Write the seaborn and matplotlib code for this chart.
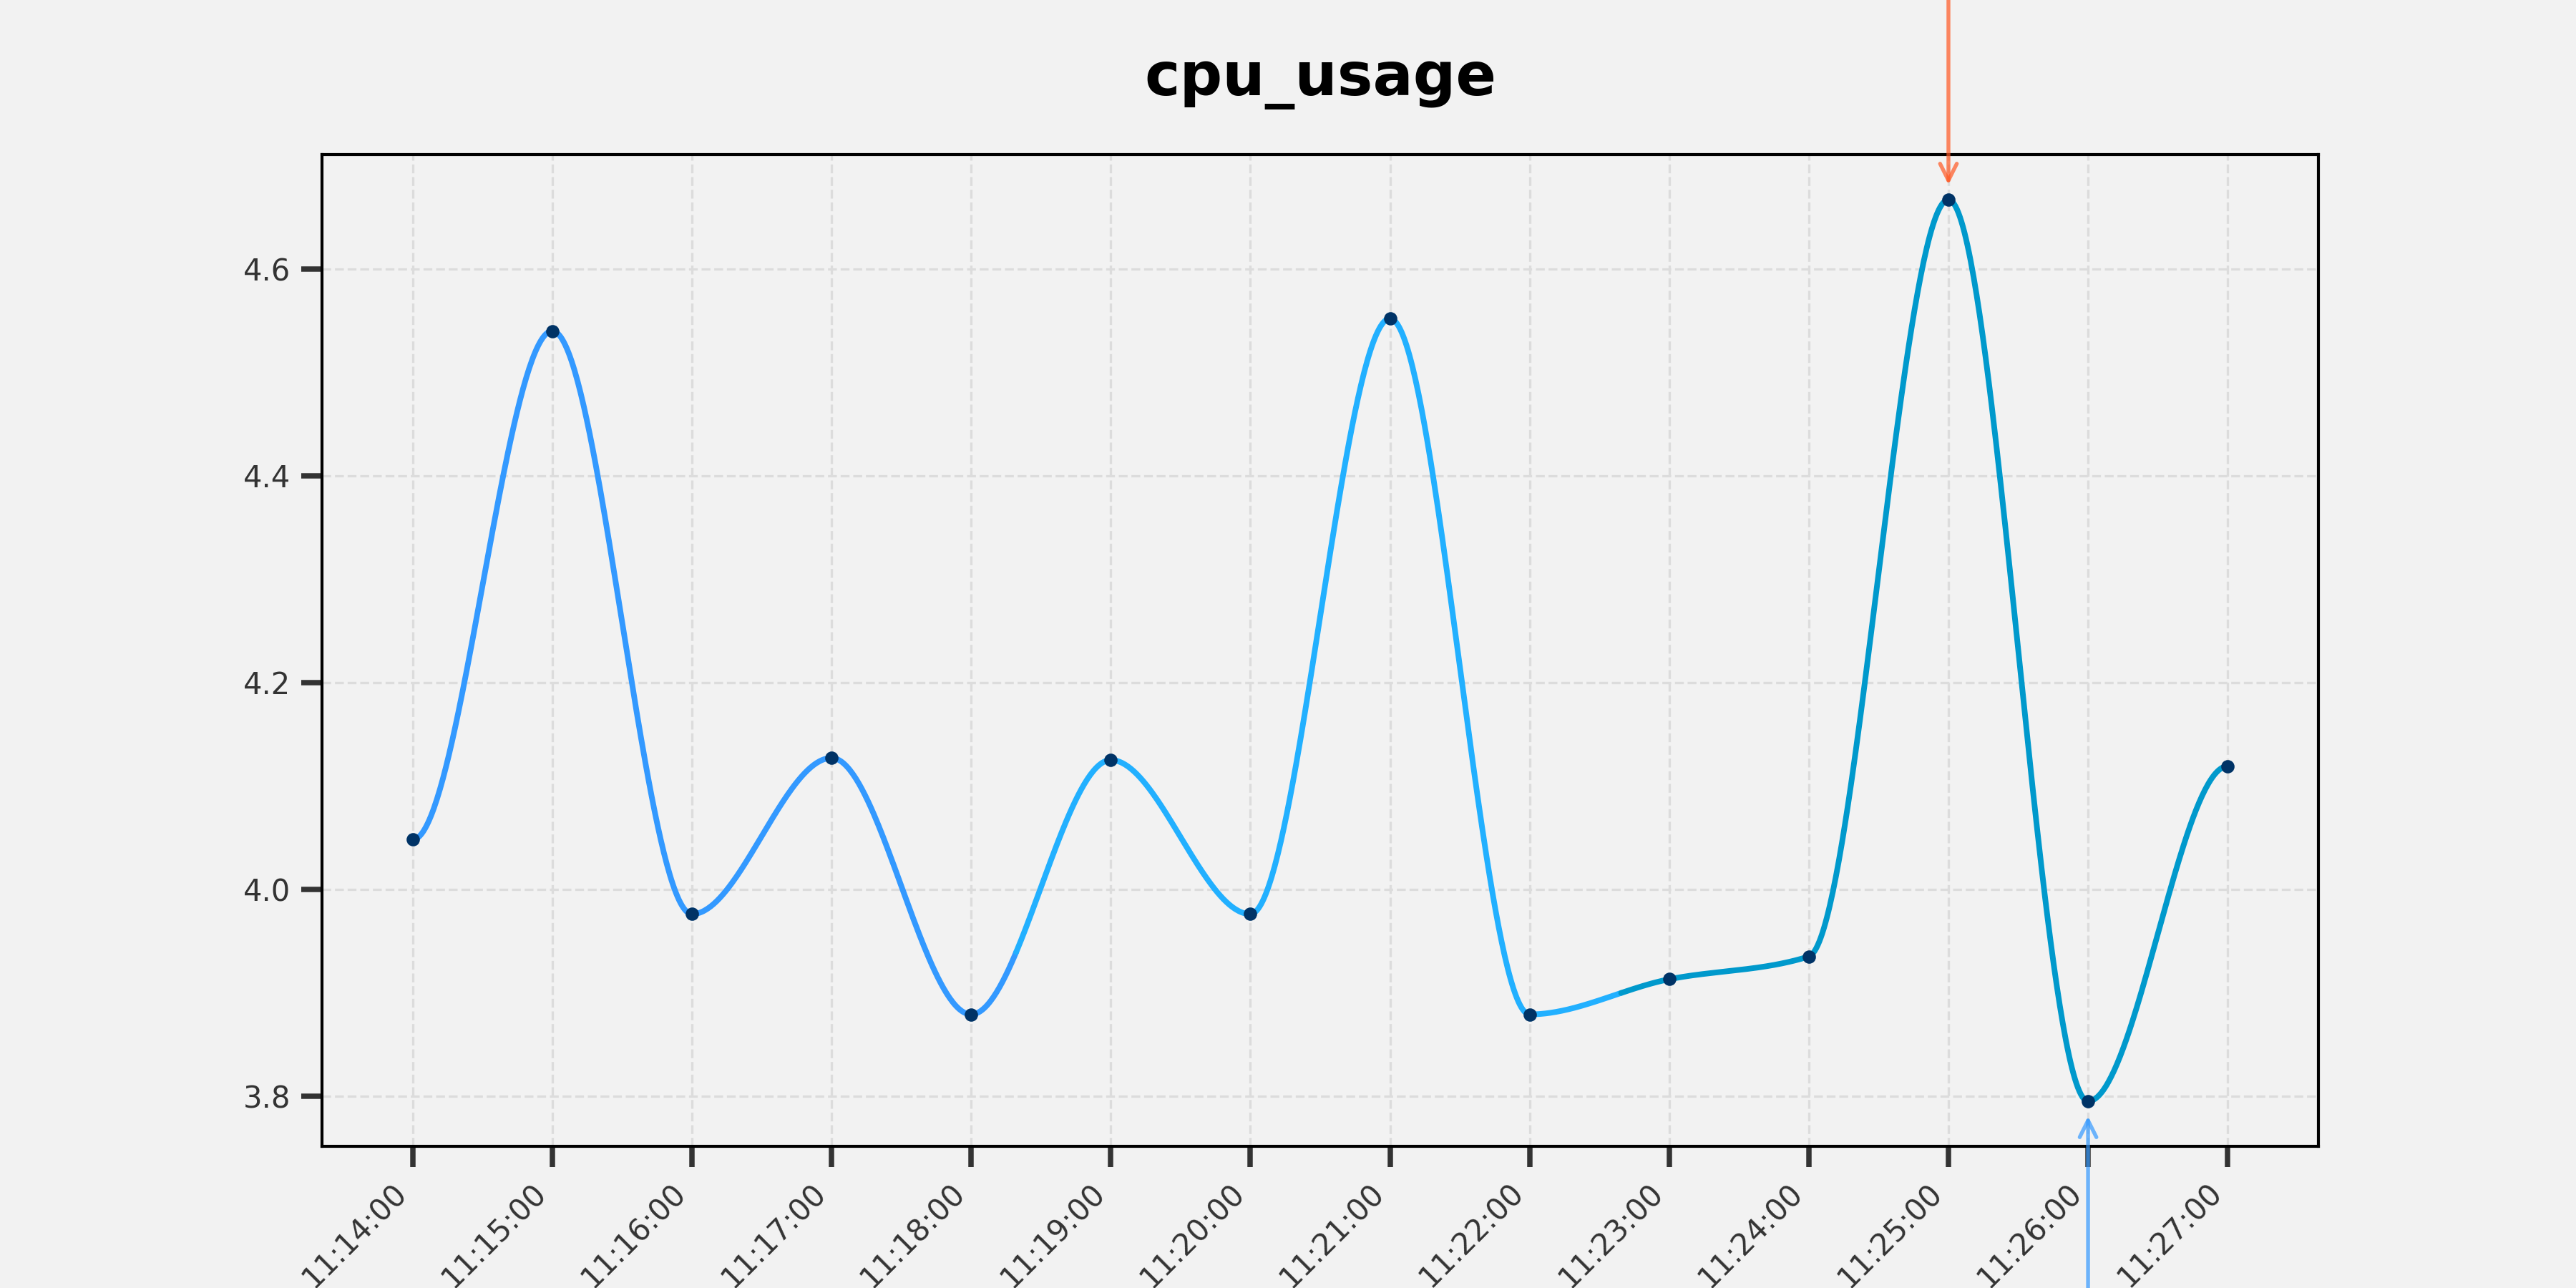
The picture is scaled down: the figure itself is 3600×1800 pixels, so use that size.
"""
cpu_usage over one sampling window, smoothed with a monotone cubic
and with the peak / trough flagged by arrows.
"""
# %%
import numpy as np
import pandas as pd
import matplotlib
matplotlib.use("Agg")
import matplotlib.pyplot as plt
import seaborn as sns

TIMES = ["11:14:00", "11:15:00", "11:16:00", "11:17:00", "11:18:00",
         "11:19:00", "11:20:00", "11:21:00", "11:22:00", "11:23:00",
         "11:24:00", "11:25:00", "11:26:00", "11:27:00"]
CPU = [4.048, 4.540, 3.976, 4.127, 3.879, 4.125, 3.976,
       4.552, 3.879, 3.913, 3.935, 4.667, 3.795, 4.119]

SEGMENT_COLORS = ["#3399ff", "#22b0ff", "#0099cc"]
POINT_COLOR = "#003366"
BG = "#f2f2f2"


def pchip(x, y, xs):
    # monotone cubic (Fritsch-Carlson), flat at both ends
    x = np.asarray(x, float)
    y = np.asarray(y, float)
    h = np.diff(x)
    d = np.diff(y) / h
    m = np.zeros_like(y)
    for k in range(1, len(x) - 1):
        if d[k - 1] * d[k] > 0:
            w1 = 2 * h[k] + h[k - 1]
            w2 = h[k] + 2 * h[k - 1]
            m[k] = (w1 + w2) / (w1 / d[k - 1] + w2 / d[k])
    idx = np.clip(np.searchsorted(x, xs, side="right") - 1, 0, len(x) - 2)
    t = (xs - x[idx]) / h[idx]
    h00 = 2 * t**3 - 3 * t**2 + 1
    h10 = t**3 - 2 * t**2 + t
    h01 = -2 * t**3 + 3 * t**2
    h11 = t**3 - t**2
    return (h00 * y[idx] + h10 * h[idx] * m[idx]
            + h01 * y[idx + 1] + h11 * h[idx] * m[idx + 1])


# %%
df = pd.DataFrame({"time": TIMES, "cpu": CPU})
df["pos"] = np.arange(len(df))

xs = np.linspace(0, len(df) - 1, 1201)
curve = pd.DataFrame({"pos": xs, "cpu": pchip(df.pos, df.cpu, xs)})
# split the smooth line in three equal chunks, one colour each
curve["chunk"] = np.minimum((np.arange(len(curve)) * 3) // (len(curve) - 1), 2)

sns.set_theme(style="ticks")
plt.rcParams.update({
    "figure.facecolor": BG,
    "axes.facecolor": BG,
    "axes.edgecolor": "black",
    "axes.linewidth": 1.0,
    "xtick.color": "#333333",
    "ytick.color": "#333333",
    "xtick.major.size": 7,
    "ytick.major.size": 7,
    "xtick.major.width": 1.8,
    "ytick.major.width": 1.8,
    "xtick.labelsize": 10,
    "ytick.labelsize": 10,
})
plt.rcParams["font.family"] = ["DejaVu Sans"]

fig = plt.figure(figsize=(12, 6), dpi=300)
ax = fig.add_subplot(111)

for i, color in enumerate(SEGMENT_COLORS):
    part = curve[(curve.chunk == i) | (curve.chunk.shift(-1) == i)]
    sns.lineplot(data=part, x="pos", y="cpu", color=color, linewidth=1.9,
                 estimator=None, sort=False, ax=ax, zorder=2)

sns.scatterplot(data=df, x="pos", y="cpu", color=POINT_COLOR, s=20,
                linewidth=0, ax=ax, zorder=3)

ax.grid(True, linestyle="--", linewidth=0.8, color="#dcdcdc")
ax.set_axisbelow(True)
ax.set_xticks(df.pos)
ax.set_xticklabels(TIMES, rotation=45, ha="right")
ax.set_xlabel("")
ax.set_ylabel("")
for s in ax.spines.values():
    s.set_visible(True)

# peak and trough markers
i_max = df.cpu.idxmax()
i_min = df.cpu.idxmin()
ax.annotate("", xy=(df.pos[i_max], df.cpu[i_max]), xytext=(0, 90),
            textcoords="offset points", annotation_clip=False,
            arrowprops=dict(arrowstyle="->", color="#ff5722", alpha=0.7,
                            lw=1.3, shrinkA=0, shrinkB=5, mutation_scale=14))
ax.annotate("", xy=(df.pos[i_min], df.cpu[i_min]), xytext=(0, -90),
            textcoords="offset points", annotation_clip=False,
            arrowprops=dict(arrowstyle="->", color="#3399ff", alpha=0.7,
                            lw=1.3, shrinkA=0, shrinkB=5, mutation_scale=14))

ax.set_title("cpu_usage", fontsize=20, fontweight="bold", color="black", pad=20)

fig.savefig("out.png", dpi=300, facecolor=fig.get_facecolor())
